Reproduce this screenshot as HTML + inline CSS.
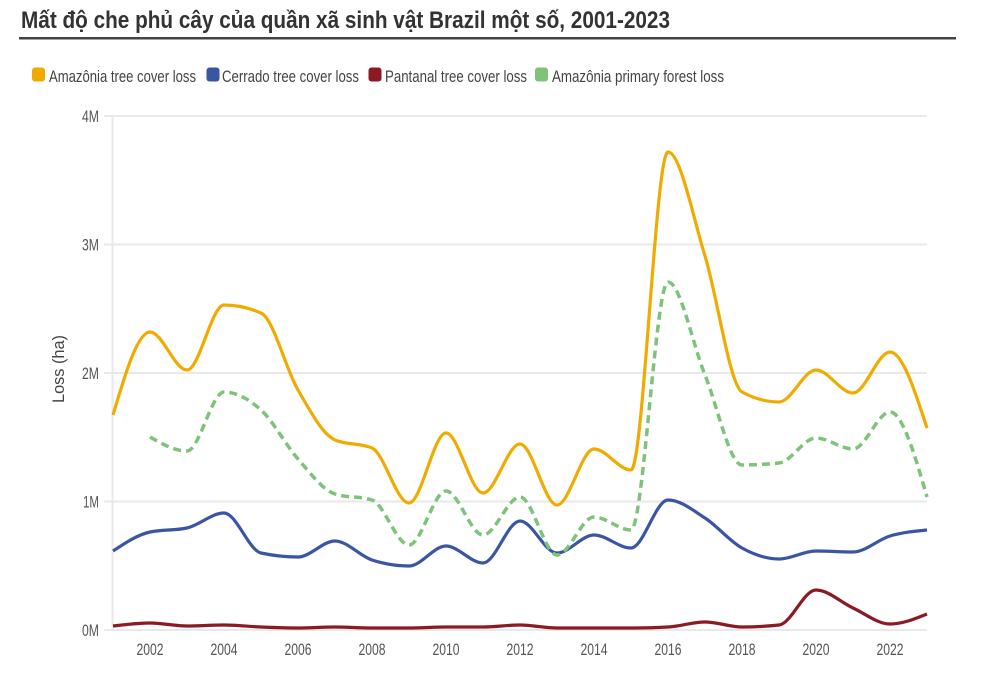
<!DOCTYPE html>
<html><head><meta charset="utf-8">
<style>
html,body{margin:0;padding:0;background:#fff;}
svg{display:block;}
text{font-family:"Liberation Sans Narrow","Liberation Sans",sans-serif;}
</style></head>
<body>
<svg id="c" xmlns="http://www.w3.org/2000/svg" width="981" height="682" viewBox="0 0 981 682">
<rect width="981" height="682" fill="#fff"/>
<text x="21" y="28" font-size="24" font-weight="bold" fill="#333" textLength="649" lengthAdjust="spacingAndGlyphs">Mất độ che phủ cây của quần xã sinh vật Brazil một số, 2001-2023</text>
<rect x="19" y="37" width="937" height="2.5" fill="#444"/>

<!-- legend -->
<rect x="32" y="67.5" width="13" height="14" rx="3" fill="#F0AB00"/>
<text x="49" y="82" font-size="16.5" fill="#444" textLength="147" lengthAdjust="spacingAndGlyphs">Amazônia tree cover loss</text>
<rect x="206.5" y="67.5" width="13" height="14" rx="3" fill="#3A55A4"/>
<text x="222" y="82" font-size="16.5" fill="#444" textLength="137" lengthAdjust="spacingAndGlyphs">Cerrado tree cover loss</text>
<rect x="368.5" y="67.5" width="13" height="14" rx="3" fill="#8B1A24"/>
<text x="385" y="82" font-size="16.5" fill="#444" textLength="142" lengthAdjust="spacingAndGlyphs">Pantanal tree cover loss</text>
<rect x="535" y="67.5" width="13" height="14" rx="3" fill="#7DC47A"/>
<text x="552" y="82" font-size="16.5" fill="#444" textLength="172" lengthAdjust="spacingAndGlyphs">Amazônia primary forest loss</text>

<!-- grid -->
<g stroke="#e9e9e9" stroke-width="2">
<line x1="104" y1="116" x2="927" y2="116"/>
<line x1="104" y1="244.5" x2="927" y2="244.5"/>
<line x1="104" y1="373" x2="927" y2="373"/>
<line x1="104" y1="501.5" x2="927" y2="501.5"/>
<line x1="104" y1="630" x2="927" y2="630"/>
<line x1="112.5" y1="116" x2="112.5" y2="631"/>
</g>

<!-- y labels -->
<g font-size="17" fill="#555">
<text x="82" y="122" textLength="17" lengthAdjust="spacingAndGlyphs">4M</text>
<text x="82" y="250.5" textLength="17" lengthAdjust="spacingAndGlyphs">3M</text>
<text x="82" y="379" textLength="17" lengthAdjust="spacingAndGlyphs">2M</text>
<text x="83" y="507.5" textLength="16" lengthAdjust="spacingAndGlyphs">1M</text>
<text x="82" y="636" textLength="17" lengthAdjust="spacingAndGlyphs">0M</text>
</g>
<text transform="translate(64,403) rotate(-90)" font-size="17" fill="#444" textLength="68" lengthAdjust="spacingAndGlyphs">Loss (ha)</text>

<!-- x labels -->
<g font-size="17" fill="#555">
<text x="136.5" y="655" textLength="27" lengthAdjust="spacingAndGlyphs">2002</text>
<text x="210.5" y="655" textLength="27" lengthAdjust="spacingAndGlyphs">2004</text>
<text x="284.5" y="655" textLength="27" lengthAdjust="spacingAndGlyphs">2006</text>
<text x="358.5" y="655" textLength="27" lengthAdjust="spacingAndGlyphs">2008</text>
<text x="432.5" y="655" textLength="27" lengthAdjust="spacingAndGlyphs">2010</text>
<text x="506.5" y="655" textLength="27" lengthAdjust="spacingAndGlyphs">2012</text>
<text x="580.5" y="655" textLength="27" lengthAdjust="spacingAndGlyphs">2014</text>
<text x="654.5" y="655" textLength="27" lengthAdjust="spacingAndGlyphs">2016</text>
<text x="728.5" y="655" textLength="27" lengthAdjust="spacingAndGlyphs">2018</text>
<text x="802.5" y="655" textLength="27" lengthAdjust="spacingAndGlyphs">2020</text>
<text x="876.5" y="655" textLength="27" lengthAdjust="spacingAndGlyphs">2022</text>
</g>

<path id="pO" fill="none" stroke="#F0AB00" stroke-width="3.2" stroke-linejoin="round"/>
<path id="pB" fill="none" stroke="#3A55A4" stroke-width="3.2" stroke-linejoin="round"/>
<path id="pR" fill="none" stroke="#8B1A24" stroke-width="3.2" stroke-linejoin="round"/>
<path id="pG" fill="none" stroke="#7DC47A" stroke-width="3.5" stroke-dasharray="8,5"/>
</svg>
<script>
(function(){
var X0=113, DX=37;
function sgn(v){return v<0?-1:(v>0?1:0);}
function mono(ys){
  var p=[];
  for(var i=0;i<ys.length;i++){ if(ys[i]!=null) p.push([X0+i*DX, ys[i]]); }
  var n=p.length, s=[], m=[];
  for(var i=0;i<n-1;i++){ s.push((p[i+1][1]-p[i][1])/(p[i+1][0]-p[i][0])); }
  for(var i=1;i<n-1;i++){
    var h0=p[i][0]-p[i-1][0], h1=p[i+1][0]-p[i][0], s0=s[i-1], s1=s[i];
    var q=(s0*h1+s1*h0)/(h0+h1);
    m[i]=(sgn(s0)+sgn(s1))*Math.min(Math.abs(s0),Math.abs(s1),0.5*Math.abs(q))||0;
  }
  m[0]=(3*s[0]-m[1])/2;
  m[n-1]=(3*s[n-2]-m[n-2])/2;
  var d="M"+p[0][0]+","+p[0][1];
  for(var i=0;i<n-1;i++){
    var x0=p[i][0],y0=p[i][1],x1=p[i+1][0],y1=p[i+1][1],dx=(x1-x0)/3;
    d+="C"+(x0+dx).toFixed(2)+","+(y0+dx*m[i]).toFixed(2)+","+(x1-dx).toFixed(2)+","+(y1-dx*m[i+1]).toFixed(2)+","+x1+","+y1;
  }
  return d;
}
var O=[415,332,370,305,313,390,440,448,503,433,493,444,505,449,470,152,256,392,402,370,393,352,428];
var G=[null,437,451,392,410,459,494,500,545,491,535,497,555,517,530,282,375,465,463,438,449,412,497];
var B=[551,532,528,513,553,557,541,560,566,546,563,521,553,535,548,500,518,548,559,551,552,536,530];
var R=[626,623,626,625,627,628,627,628,628,627,627,625,628,628,628,627,622,627,625,590,608,624,614];
document.getElementById('pO').setAttribute('d',mono(O));
document.getElementById('pB').setAttribute('d',mono(B));
document.getElementById('pR').setAttribute('d',mono(R));
document.getElementById('pG').setAttribute('d',mono(G));
})();
</script>
</body></html>
